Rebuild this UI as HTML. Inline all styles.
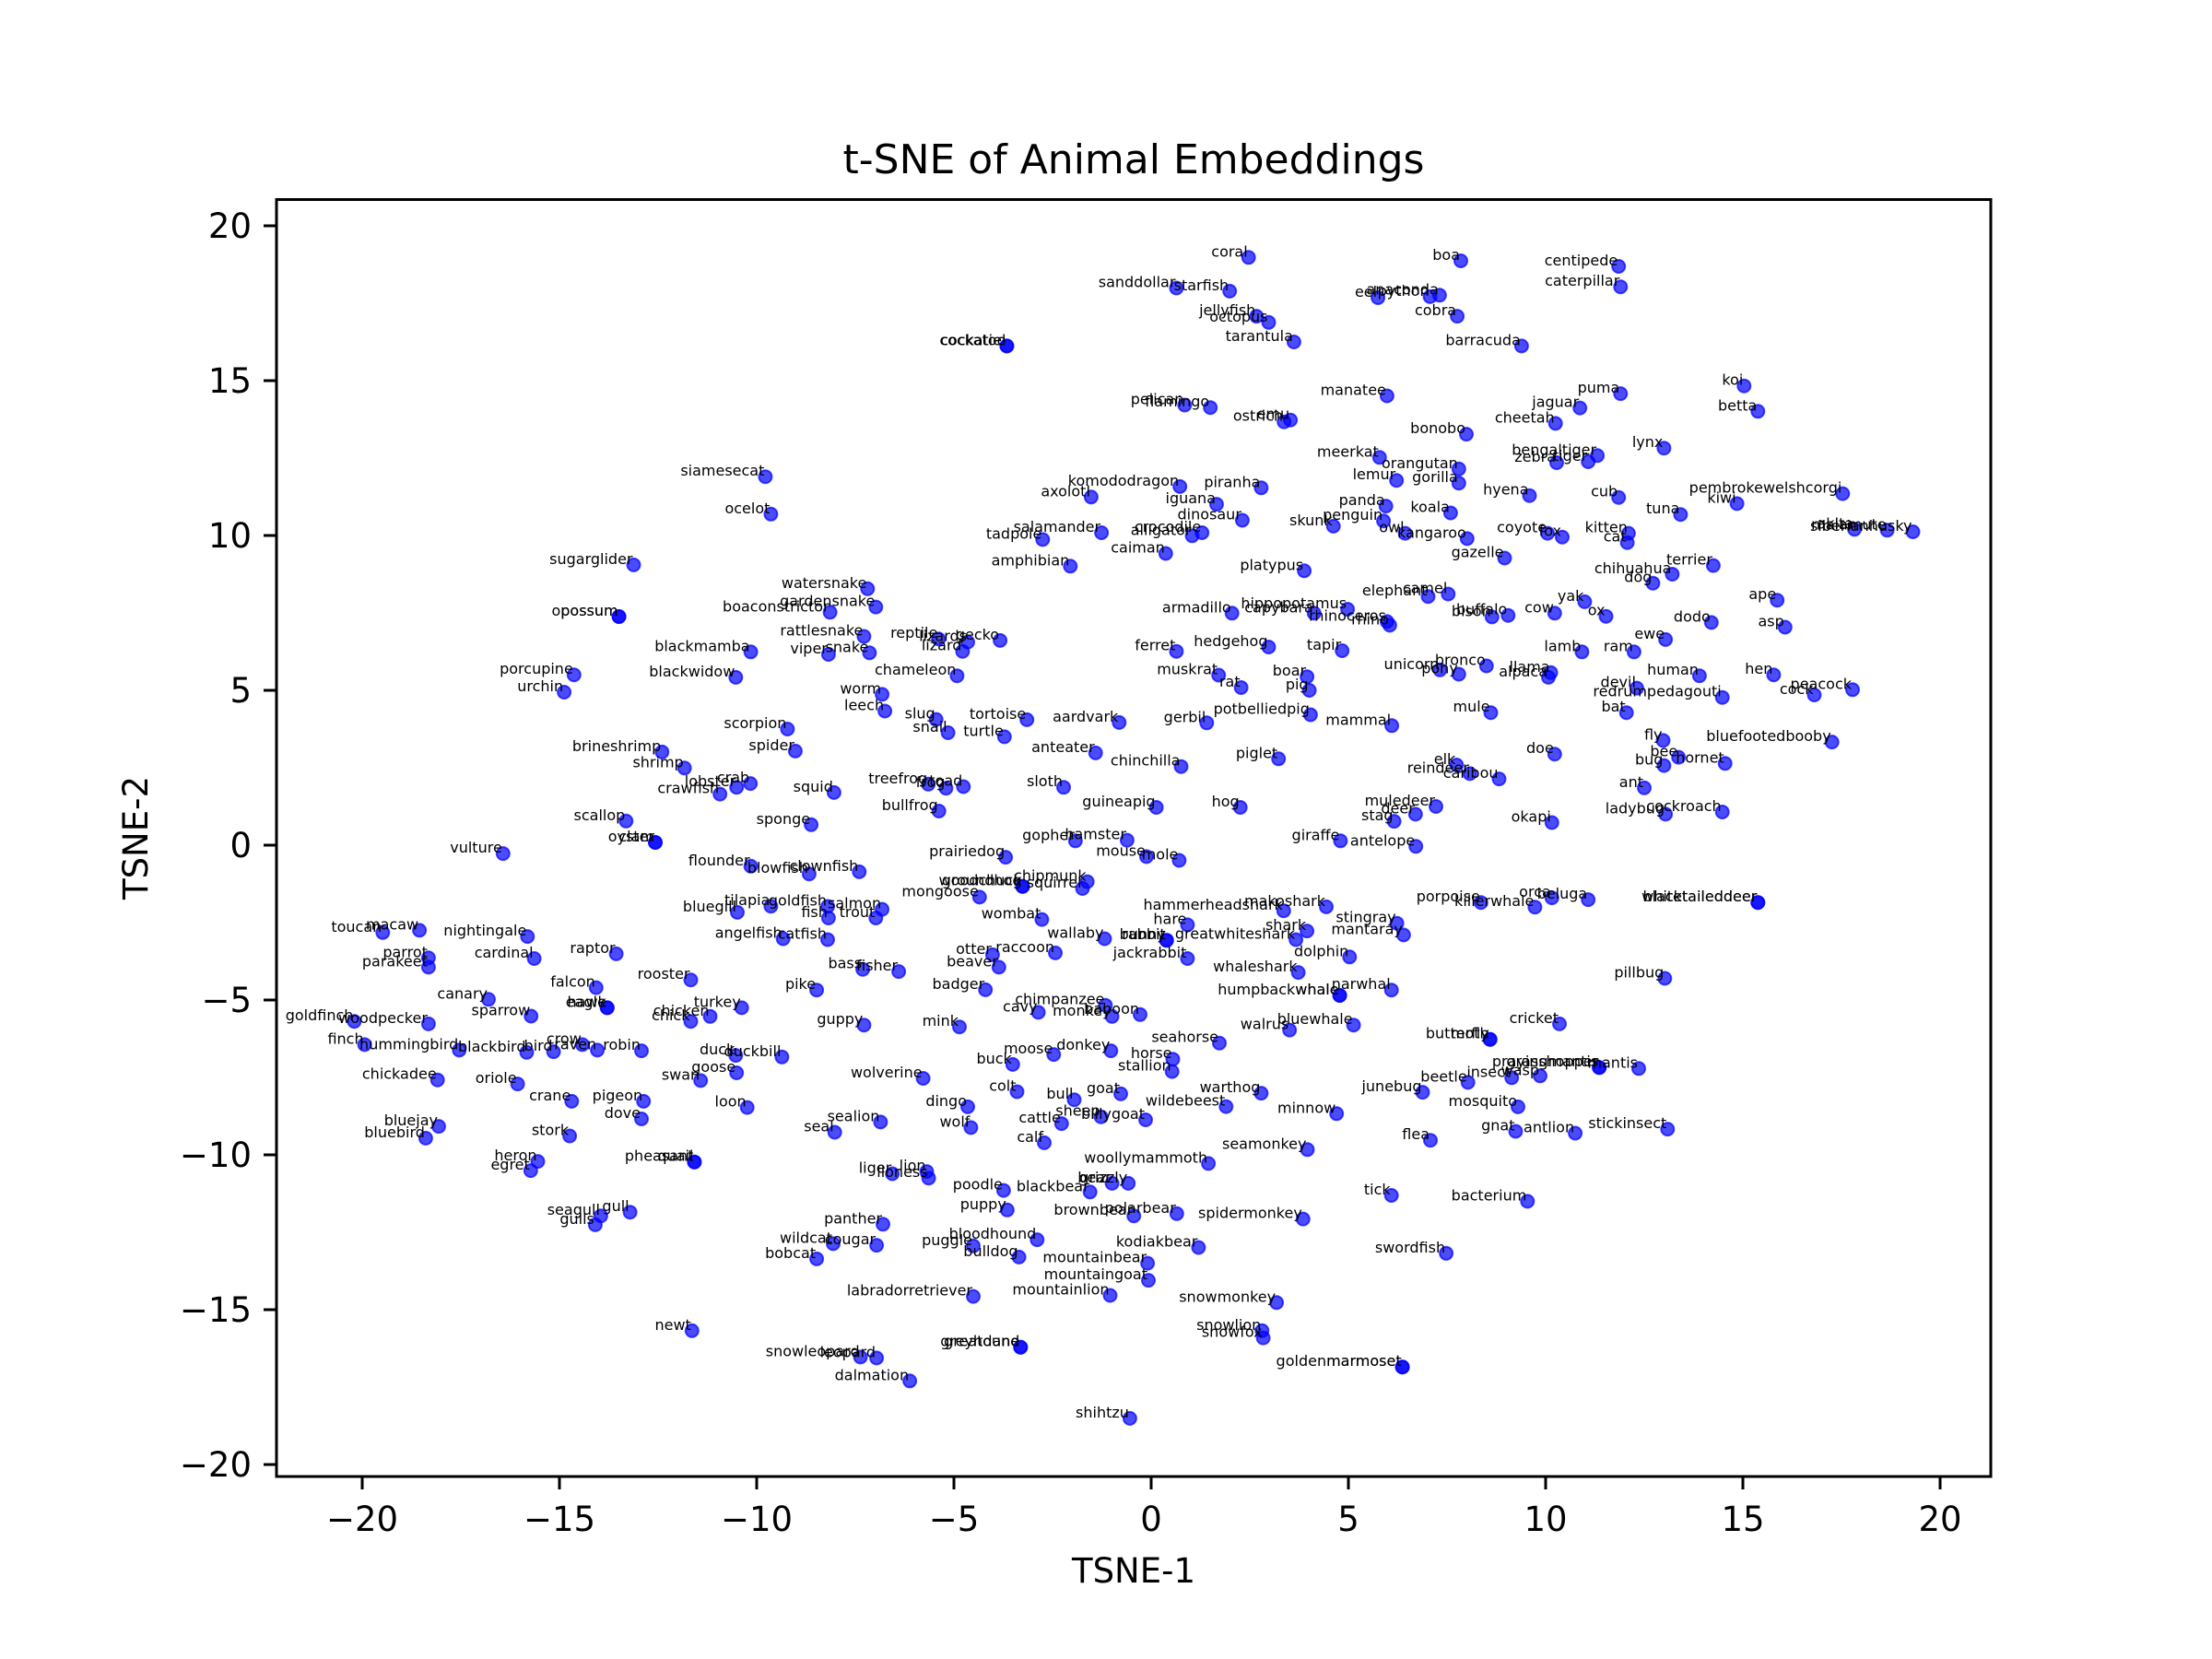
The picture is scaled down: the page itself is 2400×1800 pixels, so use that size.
<!DOCTYPE html>
<html>
<head>
<meta charset="utf-8">
<style>
  html, body { margin: 0; padding: 0; background: #ffffff; }
  svg { display: block; }
  text { font-family: "DejaVu Sans", "Liberation Sans", sans-serif; fill: #000; }
</style>
</head>
<body>
<svg id="chart" width="2400" height="1800" viewBox="0 0 2400 1800" xmlns="http://www.w3.org/2000/svg">
  <rect x="0" y="0" width="2400" height="1800" fill="#ffffff"></rect>
  <text x="1230" y="188" font-size="44" text-anchor="middle">t-SNE of Animal Embeddings</text>
  <g id="points"></g>
  <g id="labels"></g>
  <rect x="300" y="216.5" width="1860" height="1385.5" fill="none" stroke="#000" stroke-width="3"></rect>
  <g id="xticks"></g>
  <g id="yticks"></g>
  <text x="1230" y="1717" font-size="37" text-anchor="middle">TSNE-1</text>
  <text x="160" y="909" font-size="37" text-anchor="middle" transform="rotate(-90 160 909)">TSNE-2</text>
</svg>
<script>
const names = ["siamesecat","ocelot","sugarglider","opossum","possum","boaconstrictor","coral","sanddollar","starfish","jellyfish","octopus","tarantula","cockatiel","cockatoo","eel","python","anaconda","boa","cobra","barracuda","centipede","caterpillar","manatee","pelican","flamingo","ostrich","emu","meerkat","komododragon","piranha","axolotl","iguana","dinosaur","skunk","panda","penguin","salamander","tadpole","alligator","crocodile","caiman","amphibian","platypus","watersnake","gardensnake","armadillo","capybara","hippopotamus","rhinoceros","rhino","elephant","camel","orangutan","lemur","gorilla","bonobo","cheetah","jaguar","puma","koi","betta","lynx","bengaltiger","zebra","tiger","hyena","koala","owl","kangaroo","coyote","fox","cub","kitten","cat","tuna","pembrokewelshcorgi","kiwi","akita","malamute","siberianhusky","gazelle","terrier","chihuahua","dog","ape","asp","yak","ox","cow","buffalo","bison","dodo","ewe","blackmamba","rattlesnake","viper","snake","reptile","lizards","lizard","gecko","porcupine","urchin","blackwidow","scorpion","spider","brineshrimp","shrimp","lobster","crab","crawfish","squid","scallop","clam","oyster","sponge","vulture","flounder","blowfish","clownfish","bluegill","tilapia","goldfish","fish","angelfish","catfish","toucan","macaw","nightingale","parrot","parakeet","cardinal","raptor","rooster","pike","falcon","canary","eagle","hawk","sparrow","turkey","chicken","chick","goldfinch","woodpecker","finch","hummingbird","blackbird","bird","crow","raven","robin","duck","duckbill","guppy","ferret","hedgehog","tapir","chameleon","muskrat","rat","boar","pig","worm","leech","slug","snail","tortoise","turtle","aardvark","gerbil","potbelliedpig","mammal","anteater","chinchilla","piglet","treefrog","frog","toad","sloth","bullfrog","guineapig","hog","muledeer","deer","stag","gopher","hamster","mouse","mole","giraffe","antelope","prairiedog","groundhog","woodchuck","chipmunk","squirrel","mongoose","salmon","trout","hammerheadshark","makoshark","wombat","hare","rabbit","bunny","greatwhiteshark","shark","stingray","mantaray","wallaby","otter","raccoon","jackrabbit","dolphin","bass","fisher","beaver","whaleshark","badger","humpbackwhale","whale","narwhal","cavy","chimpanzee","monkey","baboon","mink","walrus","bluewhale","seahorse","donkey","moose","horse","buck","stallion","lamb","ram","unicorn","pony","bronco","llama","alpaca","human","hen","peacock","cock","devil","redrumpedagouti","bat","mule","fly","bluefootedbooby","doe","bee","bug","hornet","elk","reindeer","caribou","ant","ladybug","cockroach","okapi","porpoise","killerwhale","orca","beluga","whitetaileddeer","blacktaileddeer","pillbug","cricket","butterfly","moth","chickadee","oriole","crane","pigeon","dove","swan","goose","loon","bluejay","bluebird","stork","heron","egret","pheasant","quail","seagull","gulls","gull","wildcat","bobcat","newt","seal","wolverine","colt","bull","goat","warthog","wildebeest","minnow","dingo","sealion","wolf","cattle","sheep","billygoat","calf","seamonkey","woollymammoth","liger","lion","lioness","poodle","blackbear","bear","grizzly","tick","puppy","brownbear","polarbear","spidermonkey","panther","cougar","bloodhound","puggle","bulldog","kodiakbear","mountainbear","mountaingoat","mountainlion","labradorretriever","snowmonkey","snowlion","snowfox","greatdane","greyhound","snowleopard","leopard","dalmation","goldenmarmoset","marmoset","shihtzu","beetle","junebug","insect","wasp","grasshopper","prayingmantis","mantis","mosquito","flea","gnat","antlion","stickinsect","bacterium","swordfish"];
const xs = [-9.78,-9.64,-13.12,-13.49,-13.49,-8.14,2.47,0.64,1.99,2.67,2.98,3.62,-3.66,-3.66,5.75,7.07,7.31,7.85,7.76,9.39,11.85,11.90,5.98,0.85,1.50,3.37,3.53,5.79,0.73,2.79,-1.52,1.66,2.31,4.62,5.95,5.89,-1.26,-2.75,1.04,1.29,0.37,-2.05,3.88,-7.19,-6.98,2.05,4.13,4.98,5.98,6.05,7.02,7.53,7.80,6.22,7.80,7.99,10.25,10.87,11.90,15.03,15.38,13.00,11.31,10.28,11.08,9.59,7.59,6.44,8.01,10.05,10.42,11.85,12.10,12.07,13.42,17.53,14.85,17.83,18.66,19.31,8.96,14.25,13.21,12.72,15.87,16.07,10.99,11.53,10.23,9.05,8.64,14.20,13.04,-10.15,-7.28,-8.18,-7.14,-5.39,-4.65,-4.78,-3.83,-14.63,-14.88,-10.53,-9.22,-9.02,-12.40,-11.83,-10.51,-10.16,-10.93,-8.04,-13.31,-12.57,-12.57,-8.62,-16.43,-10.15,-8.67,-7.40,-10.49,-9.64,-8.20,-8.18,-9.33,-8.20,-19.48,-18.55,-15.81,-18.32,-18.32,-15.64,-13.56,-11.67,-8.48,-14.07,-16.80,-13.79,-13.79,-15.72,-10.38,-11.18,-11.67,-20.20,-18.32,-19.94,-17.54,-15.83,-15.15,-14.42,-14.04,-12.92,-10.53,-9.36,-7.28,0.64,2.98,4.84,-4.92,1.71,2.28,3.95,4.01,-6.82,-6.75,-5.45,-5.15,-3.15,-3.72,-0.81,1.41,4.04,6.10,-1.41,0.76,3.23,-5.65,-5.20,-4.76,-2.22,-5.38,0.13,2.26,7.22,6.70,6.16,-1.92,-0.61,-0.12,0.71,4.80,6.71,-3.69,-3.26,-3.26,-1.62,-1.74,-4.35,-6.82,-6.98,3.36,4.44,-2.77,0.92,0.39,0.39,3.67,3.95,6.23,6.40,-1.18,-4.02,-2.43,0.92,5.03,-7.31,-6.40,-3.86,3.73,-4.20,4.78,4.78,6.09,-2.86,-1.16,-0.99,-0.28,-4.86,3.51,5.13,1.73,-1.02,-2.47,0.55,-3.51,0.53,10.92,12.24,7.32,7.80,8.50,10.13,10.07,13.90,15.78,17.78,16.81,12.31,14.48,12.05,8.61,12.98,17.26,10.23,13.37,13.00,14.55,7.74,8.08,8.82,12.50,13.04,14.48,10.16,8.36,9.73,10.16,11.08,15.38,15.38,13.02,10.35,8.59,8.59,-18.09,-16.06,-14.69,-12.87,-12.92,-11.42,-10.51,-10.24,-18.06,-18.39,-14.74,-15.55,-15.73,-11.58,-11.58,-13.95,-14.09,-13.21,-8.06,-8.48,-11.64,-8.02,-5.78,-3.40,-1.95,-0.77,2.79,1.90,4.70,-4.65,-6.86,-4.57,-2.27,-1.27,-0.14,-2.71,3.96,1.45,-6.56,-5.69,-5.64,-3.74,-1.55,-0.99,-0.58,6.09,-3.65,-0.44,0.65,3.85,-6.80,-6.96,-2.89,-4.51,-3.35,1.20,-0.09,-0.07,-1.04,-4.51,3.18,2.81,2.84,-3.31,-3.31,-7.37,-6.96,-6.12,6.37,6.37,-0.54,8.03,6.88,9.14,9.86,11.36,11.36,12.36,9.30,7.08,9.24,10.75,13.09,9.54,7.48];
const ys = [11.90,10.69,9.05,7.38,7.38,7.52,18.98,17.99,17.89,17.08,16.88,16.25,16.12,16.12,17.68,17.71,17.76,18.87,17.08,16.12,18.69,18.03,14.51,14.21,14.13,13.67,13.73,12.52,11.58,11.54,11.24,11.01,10.49,10.30,10.95,10.47,10.09,9.87,9.99,10.09,9.42,9.01,8.86,8.28,7.69,7.49,7.49,7.62,7.22,7.10,8.03,8.11,12.15,11.78,11.69,13.27,13.62,14.12,14.58,14.83,14.01,12.82,12.58,12.35,12.38,11.29,10.73,10.07,9.90,10.07,9.95,11.23,10.07,9.77,10.68,11.35,11.03,10.20,10.17,10.12,9.27,9.03,8.75,8.46,7.91,7.04,7.86,7.39,7.49,7.42,7.37,7.19,6.64,6.24,6.74,6.16,6.21,6.66,6.56,6.26,6.61,5.50,4.94,5.42,3.75,3.04,3.01,2.49,1.87,1.99,1.65,1.70,0.78,0.09,0.09,0.66,-0.27,-0.68,-0.93,-0.86,-2.17,-1.97,-1.98,-2.35,-3.02,-3.05,-2.82,-2.75,-2.95,-3.64,-3.94,-3.66,-3.51,-4.35,-4.68,-4.60,-4.98,-5.25,-5.25,-5.52,-5.25,-5.53,-5.69,-5.69,-5.77,-6.44,-6.62,-6.69,-6.67,-6.44,-6.62,-6.64,-6.79,-6.84,-5.81,6.26,6.40,6.28,5.47,5.49,5.09,5.44,5.00,4.87,4.33,4.06,3.63,4.05,3.50,3.96,3.95,4.21,3.86,2.98,2.54,2.79,1.97,1.84,1.89,1.87,1.10,1.22,1.22,1.25,1.00,0.77,0.14,0.16,-0.37,-0.49,0.14,-0.04,-0.39,-1.33,-1.33,-1.18,-1.40,-1.68,-2.07,-2.35,-2.12,-1.99,-2.40,-2.57,-3.07,-3.07,-3.05,-2.77,-2.52,-2.90,-3.02,-3.54,-3.48,-3.66,-3.61,-4.01,-4.08,-3.94,-4.11,-4.67,-4.85,-4.85,-4.68,-5.40,-5.17,-5.53,-5.47,-5.87,-5.97,-5.81,-6.39,-6.64,-6.76,-6.91,-7.08,-7.31,6.24,6.24,5.66,5.52,5.79,5.57,5.42,5.47,5.50,5.02,4.85,5.07,4.77,4.28,4.28,3.38,3.33,2.94,2.84,2.57,2.64,2.59,2.31,2.14,1.85,1.00,1.07,0.73,-1.85,-2.00,-1.70,-1.76,-1.85,-1.85,-4.30,-5.77,-6.27,-6.27,-7.58,-7.71,-8.27,-8.27,-8.84,-7.60,-7.35,-8.47,-9.08,-9.46,-9.39,-10.21,-10.51,-10.23,-10.23,-11.97,-12.26,-11.85,-12.87,-13.36,-15.68,-9.27,-7.53,-7.96,-8.22,-8.03,-8.01,-8.44,-8.67,-8.45,-8.94,-9.12,-8.99,-8.77,-8.87,-9.61,-9.83,-10.28,-10.61,-10.54,-10.75,-11.15,-11.20,-10.92,-10.92,-11.31,-11.78,-11.97,-11.90,-12.07,-12.24,-12.92,-12.74,-12.94,-13.30,-12.99,-13.50,-14.05,-14.54,-14.57,-14.77,-15.68,-15.91,-16.21,-16.21,-16.53,-16.56,-17.30,-16.85,-16.85,-18.51,-7.66,-7.98,-7.51,-7.45,-7.18,-7.18,-7.21,-8.45,-9.53,-9.24,-9.30,-9.17,-11.50,-13.18];
const xTickValues = [-20, -15, -10, -5, 0, 5, 10, 15, 20];
const yTickValues = [-20, -15, -10, -5, 0, 5, 10, 15, 20];
const xTickLabels = ["\u221220", "\u221215", "\u221210", "\u22125", "0", "5", "10", "15", "20"];
const yTickLabels = ["\u221220", "\u221215", "\u221210", "\u22125", "0", "5", "10", "15", "20"];

const NS = "http://www.w3.org/2000/svg";
function xScale(v) { return 1249 + 42.8 * v; }
function yScale(v) { return 917 - 33.6 * v; }

const gp = document.getElementById("points");
const gl = document.getElementById("labels");
for (let i = 0; i < names.length; i++) {
  const cx = xScale(xs[i]), cy = yScale(ys[i]);
  const c = document.createElementNS(NS, "circle");
  c.setAttribute("cx", cx.toFixed(1));
  c.setAttribute("cy", cy.toFixed(1));
  c.setAttribute("r", "7");
  c.setAttribute("fill", "#0000ff");
  c.setAttribute("fill-opacity", "0.7");
  c.setAttribute("stroke", "#0000ff");
  c.setAttribute("stroke-opacity", "0.7");
  c.setAttribute("stroke-width", "2");
  
  
  gp.appendChild(c);
  const t = document.createElementNS(NS, "text");
  t.setAttribute("x", (cx - 1).toFixed(1));
  t.setAttribute("y", (cy - 1).toFixed(1));
  t.setAttribute("font-size", "16");
  t.setAttribute("text-anchor", "end");
  t.textContent = names[i];
  
  
  gl.appendChild(t);
}

const gx = document.getElementById("xticks");
for (let i = 0; i < xTickValues.length; i++) {
  const px = xScale(xTickValues[i]);
  const l = document.createElementNS(NS, "line");
  l.setAttribute("x1", px); l.setAttribute("x2", px);
  l.setAttribute("y1", 1602); l.setAttribute("y2", 1616);
  l.setAttribute("stroke", "#000"); l.setAttribute("stroke-width", "3");
  
  
  gx.appendChild(l);
  const t = document.createElementNS(NS, "text");
  t.setAttribute("x", px); t.setAttribute("y", 1661);
  t.setAttribute("font-size", "37"); t.setAttribute("text-anchor", "middle");
  t.textContent = xTickLabels[i];
  
  
  gx.appendChild(t);
}
const gy = document.getElementById("yticks");
for (let i = 0; i < yTickValues.length; i++) {
  const py = yScale(yTickValues[i]);
  const l = document.createElementNS(NS, "line");
  l.setAttribute("x1", 286); l.setAttribute("x2", 300);
  l.setAttribute("y1", py); l.setAttribute("y2", py);
  l.setAttribute("stroke", "#000"); l.setAttribute("stroke-width", "3");
  
  
  gy.appendChild(l);
  const t = document.createElementNS(NS, "text");
  t.setAttribute("x", 273); t.setAttribute("y", py + 13);
  t.setAttribute("font-size", "37"); t.setAttribute("text-anchor", "end");
  t.textContent = yTickLabels[i];
  
  
  gy.appendChild(t);
}
</script>
</body>
</html>
